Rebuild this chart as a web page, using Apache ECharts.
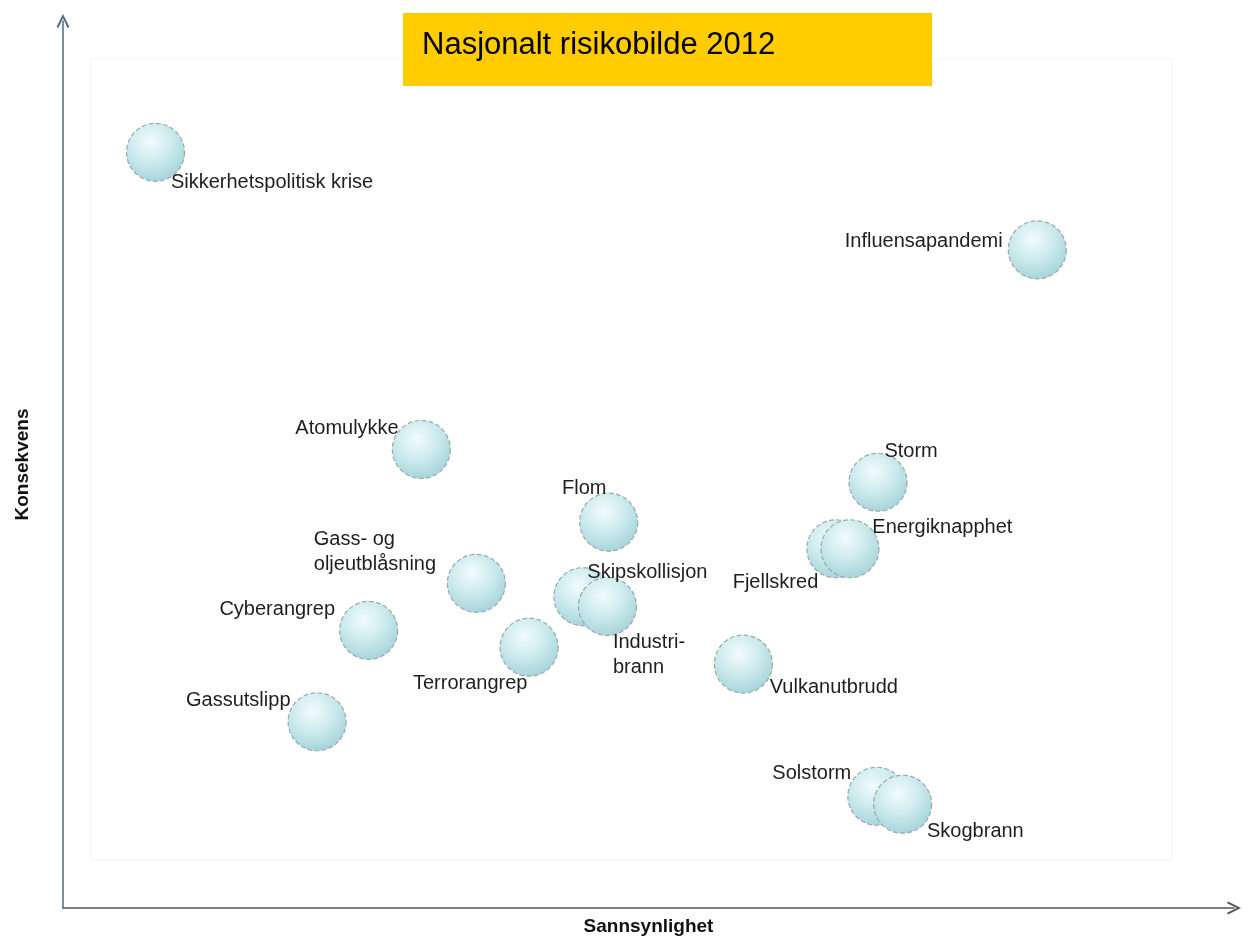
<!DOCTYPE html>
<html>
<head>
    <meta charset="utf-8"/>
    <title>Nasjonalt risikobilde 2012</title>
    <script src="https://cdn.jsdelivr.net/npm/echarts@6/dist/echarts.min.js"></script>
    <style>
        html, body { margin: 0; padding: 0; background: #fff; }
    </style>
</head>
<body>
<div id="main" style="width: 1251px; height: 943px"></div>
<script type="text/javascript">
    // hendelser, sannsynlighet (x) og konsekvens (y), skala 0-100
    var names = ['Sikkerhetspolitisk krise', 'Influensapandemi', 'Atomulykke', 'Storm', 'Flom',
        'Fjellskred', 'Energiknapphet', 'Gass- og\noljeutblåsning', 'Skipskollisjon', 'Industri-\nbrann',
        'Cyberangrep', 'Terrorangrep', 'Vulkanutbrudd', 'Gassutslipp', 'Solstorm', 'Skogbrann'];
    var sannsynlighet = [7.9, 83.2, 30.6, 69.6, 46.6, 66.0, 67.2, 35.3, 44.4, 46.5, 26.1, 39.8, 58.1, 21.7, 69.5, 71.7];
    var konsekvens = [85.2, 74.2, 51.7, 48.0, 43.5, 40.5, 40.5, 36.6, 35.1, 34.0, 31.3, 29.4, 27.5, 21.0, 12.6, 11.7];

    // etikettplassering: [justering, dx, dy] fra midten av boblen
    var labelPos = [
        ['left', 16, 31], ['right', -34, -8], ['right', -22, -20], ['left', 7, -30], ['left', -46, -33],
        ['right', -17, 34], ['left', 23, -21], ['left', -162, -31], ['left', 5, -24], ['left', 6, 49],
        ['right', -33, -20], ['right', -1, 37], ['left', 27, 24], ['right', -26, -21], ['right', -25, -22],
        ['left', 25, 28]
    ];

    var R = 29; // boblens radius
    var myChart = echarts.init(document.getElementById("main"));

    var sphere = {
        type: 'radial', x: 0.42, y: 0.32, r: 0.7,
        colorStops: [
            {offset: 0, color: '#f2fbfc'},
            {offset: 0.5, color: '#cdebee'},
            {offset: 1, color: '#a4d3d9'}
        ]
    };

    var points = names.map(function (n, i) {
        var p = labelPos[i];
        return {
            name: n,
            value: [sannsynlighet[i], konsekvens[i]],
            label: {align: p[0], position: [R + p[1], R + p[2]]}
        };
    });

    var chevron = 'path://M0,10 L5,0 L10,10 L8.6,10.8 L5,3.2 L1.4,10.8 Z';

    var option = {
        backgroundColor: '#fff',
        animation: false,
        grid: {left: 63, right: 17, top: 21, bottom: 35},
        graphic: [
            {
                type: 'rect', z: -10,
                shape: {x: 91, y: 59, width: 1081, height: 801},
                style: {fill: '#fff', stroke: '#f1f1f1', lineWidth: 1}
            },
            {
                type: 'rect', z: 10,
                shape: {x: 403, y: 13, width: 529, height: 73},
                style: {fill: '#ffcc00'}
            },
            {
                type: 'text', z: 11, x: 422, y: 45,
                style: {
                    text: 'Nasjonalt risikobilde 2012',
                    fill: '#000',
                    verticalAlign: 'middle',
                    font: '31px "Liberation Sans", Arial, sans-serif'
                }
            }
        ],
        xAxis: {
            type: 'value', min: 0, max: 100,
            name: 'Sannsynlighet', nameLocation: 'middle', nameGap: 9,
            nameTextStyle: {fontFamily: 'Liberation Sans', fontSize: 19, fontWeight: 'bold', color: '#111'},
            axisLine: {
                show: true, symbol: ['none', chevron], symbolSize: [13, 14],
                lineStyle: {color: '#555', width: 1.5}
            },
            axisTick: {show: false},
            axisLabel: {show: false},
            splitLine: {show: false}
        },
        yAxis: {
            type: 'value', min: 0, max: 100,
            name: 'Konsekvens', nameLocation: 'middle', nameGap: 31, nameRotate: 90,
            nameTextStyle: {fontFamily: 'Liberation Sans', fontSize: 19, fontWeight: 'bold', color: '#111'},
            axisLine: {
                show: true, symbol: ['none', chevron], symbolSize: [13, 14],
                lineStyle: {color: '#4f6a8f', width: 1.5}
            },
            axisTick: {show: false},
            axisLabel: {show: false},
            splitLine: {show: false}
        },
        series: [
            {
                type: 'scatter',
                symbol: 'circle',
                symbolSize: 2 * R,
                data: points,
                itemStyle: {
                    color: sphere,
                    borderColor: '#98aaac',
                    borderWidth: 1.2,
                    borderType: 'dashed',
                    opacity: 1
                },
                label: {
                    show: true,
                    verticalAlign: 'middle',
                    formatter: '{b}',
                    color: '#1e1e1e',
                    fontFamily: 'Liberation Sans',
                    fontSize: 20,
                    lineHeight: 25
                }
            }
        ]
    };

    myChart.setOption(option);
</script>
</body>
</html>
